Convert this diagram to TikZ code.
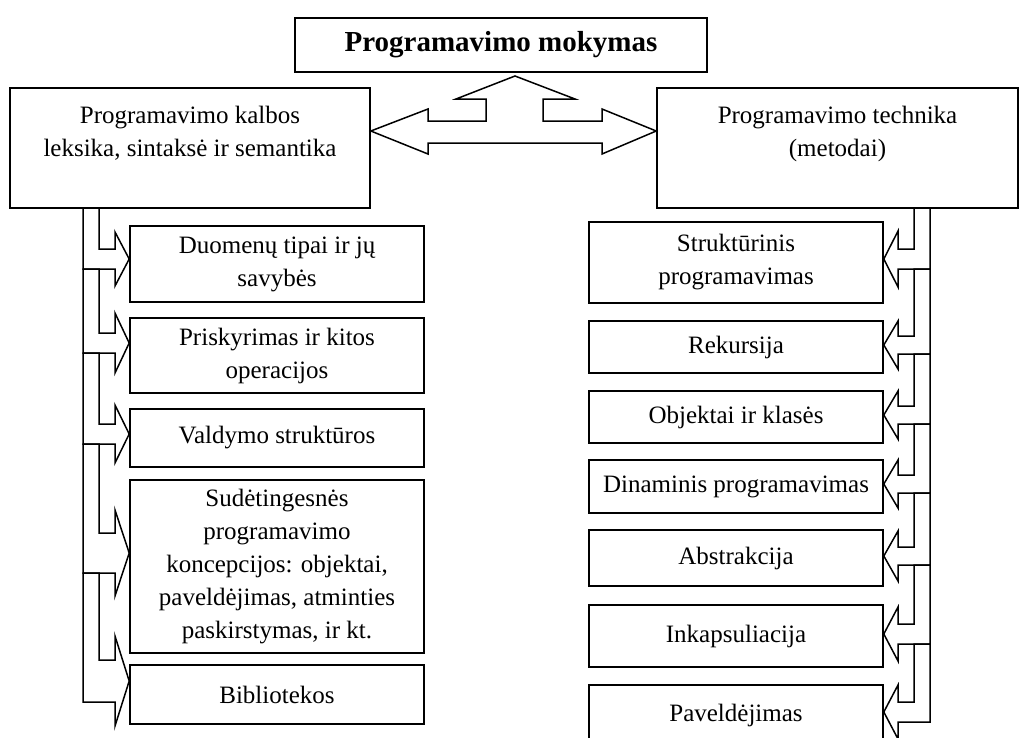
\documentclass[tikz,border=0pt]{standalone}
\usepackage{fontspec}
\setmainfont{Liberation Serif}
\usetikzlibrary{calc}

\tikzset{
  box/.style={draw, line width=1.6pt, fill=white, align=center, inner sep=0pt,
              font=\fontsize{25}{33}\selectfont},
  titlebox/.style={box, font=\fontsize{29}{33}\selectfont\bfseries},
  barrow/.style={draw, line width=1.5pt, fill=white, line join=miter},
}

% bent block arrow coming down the left rail and turning right into a box
% #1 target node, #2 top of the rail, #3 tip height, #4 head half-height, #5 shaft half-height
\newcommand\railleft[5]{%
  \draw[barrow] (83,#2) -- (99,#2) -- (99,#3-#5) -- (115,#3-#5) -- (115,#3-#4)
    -- (#1.west |- 0,#3) -- (115,#3+#4) -- (115,#3+#5) -- (83,#3+#5) -- cycle;}
% the same, mirrored, on the right rail
\newcommand\railright[5]{%
  \draw[barrow] (930,#2) -- (914,#2) -- (914,#3-#5) -- (898,#3-#5) -- (898,#3-#4)
    -- (#1.east |- 0,#3) -- (898,#3+#4) -- (898,#3+#5) -- (930,#3+#5) -- cycle;}

\begin{document}
\begin{tikzpicture}[x=1pt, y=-1pt]
\useasboundingbox[fill=white] (0,0) rectangle (1032,737);

% top level
\node[titlebox, minimum width=412pt, minimum height=54pt] (top) at (501,45) {Programavimo mokymas};
\node[box, minimum width=360pt, minimum height=120pt] (lang) at (190,148)
  {Programavimo kalbos\\leksika, sintaksė ir semantika\\\mbox{}};
\node[box, minimum width=361pt, minimum height=120pt] (tech) at (837.5,148)
  {Programavimo technika\\(metodai)\\\mbox{}};

% language topics
\node[box, minimum width=294pt, minimum height=76pt] (l1) at (277,264) {Duomenų tipai ir jų\\savybės};
\node[box, minimum width=294pt, minimum height=75pt] (l2) at (277,355.5) {Priskyrimas ir kitos\\operacijos};
\node[box, minimum width=294pt, minimum height=58pt] (l3) at (277,438) {Valdymo struktūros};
\node[box, minimum width=294pt, minimum height=173pt] (l4) at (277,566.5)
  {Sudėtingesnės\\programavimo\\koncepcijos: objektai,\\paveldėjimas, atminties\\paskirstymas, ir kt.};
\node[box, minimum width=294pt, minimum height=59pt] (l5) at (277,694.5) {Bibliotekos};

% technique topics
\node[box, minimum width=294pt, minimum height=81pt] (r1) at (736,262.5) {Struktūrinis\\programavimas};
\node[box, minimum width=294pt, minimum height=52pt] (r2) at (736,347) {Rekursija};
\node[box, minimum width=294pt, minimum height=52pt] (r3) at (736,417) {Objektai ir klasės};
\node[box, minimum width=294pt, minimum height=53pt] (r4) at (736,486.5) {Dinaminis programavimas};
\node[box, minimum width=294pt, minimum height=56pt] (r5) at (736,558) {Abstrakcija};
\node[box, minimum width=294pt, minimum height=62pt] (r6) at (736,636) {Inkapsuliacija};
\node[box, minimum width=294pt, minimum height=60pt] (r7) at (736,715) {Paveldėjimas};

% left rail
\railleft{l1}{208}{259}{27}{10}
\railleft{l2}{269}{343}{30}{10}
\railleft{l3}{353}{434}{29}{10}
\railleft{l4}{444}{553}{43}{20}
\railleft{l5}{573}{681}{45}{21}

% right rail
\railright{r1}{208}{259}{28}{10}
\railright{r2}{269}{345}{24}{9}
\railright{r3}{354}{415}{24}{9}
\railright{r4}{424}{484}{24}{9}
\railright{r5}{493}{556}{25}{9}
\railright{r6}{565}{634}{27}{10}
\railright{r7}{644}{712}{27}{10}

% three-way block arrow between the top-level boxes
\draw[barrow] (lang.east |- 0,131) -- (428,109) -- (428,121) -- (486,121) -- (486,99) -- (456,99)
  -- (515,76) -- (575,99) -- (543,99) -- (543,121) -- (602,121) -- (602,109)
  -- (tech.west |- 0,131) -- (602,154) -- (602,143) -- (428,143) -- (428,154) -- cycle;
\end{tikzpicture}
\end{document}
